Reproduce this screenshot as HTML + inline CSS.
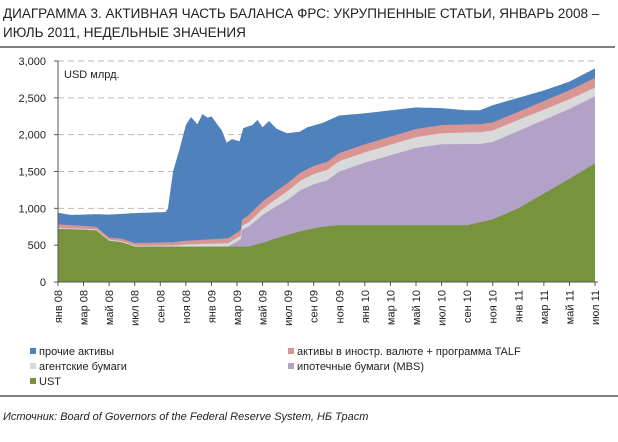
<!DOCTYPE html>
<html><head><meta charset="utf-8">
<style>
body{margin:0;background:#fff;width:618px;height:437px;overflow:hidden;font-family:"Liberation Sans",sans-serif;}
</style></head>
<body>
<svg id="s" width="618" height="437" xmlns="http://www.w3.org/2000/svg" font-family="Liberation Sans, sans-serif">
<text x="3" y="18" font-size="13.5" fill="#222">ДИАГРАММА 3. АКТИВНАЯ ЧАСТЬ БАЛАНСА ФРС: УКРУПНЕННЫЕ СТАТЬИ, ЯНВАРЬ 2008 –</text>
<text x="3" y="37" font-size="13.5" fill="#222">ИЮЛЬ 2011, НЕДЕЛЬНЫЕ ЗНАЧЕНИЯ</text>
<line x1="0" y1="47" x2="615" y2="47" stroke="#000" stroke-width="1"/>
<g id="grid" stroke="#bbb" stroke-dasharray="6,4" stroke-width="1"></g>
<g id="areas"></g>
<g id="axis" font-size="11" fill="#222"></g>
<text x="64" y="78" font-size="11" fill="#222">USD млрд.</text>
<g font-size="11" fill="#222">
<rect x="30" y="348" width="6" height="6" fill="#4f81bd"/><text x="39" y="355">прочие активы</text>
<rect x="30" y="363" width="6" height="6" fill="#d9d9d9"/><text x="39" y="370">агентские бумаги</text>
<rect x="30" y="378" width="6" height="6" fill="#77933c"/><text x="39" y="385">UST</text>
<rect x="288" y="348" width="6" height="6" fill="#d99594"/><text x="297" y="355">активы в иностр. валюте + программа TALF</text>
<rect x="288" y="363" width="6" height="6" fill="#b3a2c7"/><text x="297" y="370">ипотечные бумаги (MBS)</text>
</g>
<line x1="0" y1="396" x2="618" y2="396" stroke="#000" stroke-width="1"/>
<text x="3" y="420" font-size="11" font-style="italic" fill="#222">Источник: Board of Governors of the Federal Reserve System, НБ Траст</text>
</svg>
<script>
var NS="http://www.w3.org/2000/svg";
function X(m){return 58+m*537/42;}
function Y(v){return 282-v*0.07367;}
function interp(k,m){for(var i=0;i<k.length-1;i++){if(m>=k[i][0]&&m<=k[i+1][0]){var t=(m-k[i][0])/(k[i+1][0]-k[i][0]);return k[i][1]+t*(k[i+1][1]-k[i][1]);}}return k[k.length-1][1];}
var UST=[[0,720],[2,710],[3,700],[4,560],[5,540],[6,480],[14.9,480],[16,530],[17,590],[18,640],[19,690],[20.7,750],[22,770],[32,770],[33,810],[34,850],[36,1000],[38,1200],[40,1400],[42,1610]];
var MBSx=[[0,0],[13.3,0],[14.3,100],[14.4,230],[14.9,270],[16,380],[17,430],[18,480],[19,560],[20,600],[21,620],[22,730],[24,850],[26,950],[28,1050],[30,1100],[32,1103],[33,1063],[34,1050],[36,1050],[38,1000],[40,950],[42,910]];
var AGx=[[0,12],[9,15],[10,30],[14,50],[15,60],[16,80],[18,120],[20,140],[24,140],[30,150],[33,160],[36,150],[42,120]];
var TAx=[[0,50],[4,30],[9,45],[12,60],[14,70],[15,100],[18,110],[24,110],[30,110],[36,110],[42,130]];
var TOT=[[0,940],[1,910],[3,920],[4,915],[6,935],[8.4,950],[8.6,1000],[9.0,1500],[9.5,1800],[10,2130],[10.4,2240],[10.9,2140],[11.3,2280],[11.7,2230],[12.0,2250],[12.8,2060],[13.2,1890],[13.6,1940],[14.2,1910],[14.5,2090],[15.2,2130],[15.6,2200],[16.0,2100],[16.5,2185],[17.1,2080],[17.9,2020],[18.9,2040],[19.5,2100],[20.7,2160],[22,2260],[24,2290],[26,2330],[28,2370],[30,2360],[32,2330],[33,2330],[34,2400],[36,2500],[38,2600],[40,2720],[42,2900]];
var ms=[];for(var m=0;m<=42.001;m+=0.1)ms.push(Math.round(m*10)/10);
var L=[[],[],[],[],[]];
ms.forEach(function(m){var u=interp(UST,m),b=u+interp(MBSx,m),a=b+interp(AGx,m),t=a+interp(TAx,m),o=Math.max(interp(TOT,m),t+20);L[0].push(u);L[1].push(b);L[2].push(a);L[3].push(t);L[4].push(o);});
var cols=["#77933c","#b3a2c7","#d9d9d9","#d99594","#4f81bd"];
var g=document.getElementById("areas");
for(var s=4;s>=0;s--){var d="M"+X(0)+","+Y(0);ms.forEach(function(m,i){d+=" L"+X(m).toFixed(1)+","+Y(L[s][i]).toFixed(1);});d+=" L"+X(42)+","+Y(0)+"Z";var p=document.createElementNS(NS,"path");p.setAttribute("d",d);p.setAttribute("fill",cols[s]);g.appendChild(p);}
var gr=document.getElementById("grid");
for(var v=500;v<=3000;v+=500){var l=document.createElementNS(NS,"line");l.setAttribute("x1",58);l.setAttribute("x2",598);l.setAttribute("y1",Y(v));l.setAttribute("y2",Y(v));gr.appendChild(l);}
var ax=document.getElementById("axis");
function el(n,a,t){var e=document.createElementNS(NS,n);for(var k in a)e.setAttribute(k,a[k]);if(t)e.textContent=t;ax.appendChild(e);return e;}
el("line",{x1:58,y1:61,x2:58,y2:282,stroke:"#555"});
el("line",{x1:58,y1:282,x2:598,y2:282,stroke:"#555"});
var yl=["0","500","1,000","1,500","2,000","2,500","3,000"];
for(var i=0;i<7;i++){el("text",{x:46,y:Y(i*500)+4,"text-anchor":"end"},yl[i]);el("line",{x1:54,x2:58,y1:Y(i*500),y2:Y(i*500),stroke:"#555"});}
var mn=["янв","мар","май","июл","сен","ноя"];
for(var i=0;i<22;i++){var m=i*2;var x=X(m);el("line",{x1:x,x2:x,y1:282,y2:286,stroke:"#555"});var yr=m<12?"08":m<24?"09":m<36?"10":"11";el("text",{x:0,y:0,"text-anchor":"end",transform:"translate("+(x+4)+",290) rotate(-90)"},mn[i%6]+" "+yr);}
</script>
</body></html>
